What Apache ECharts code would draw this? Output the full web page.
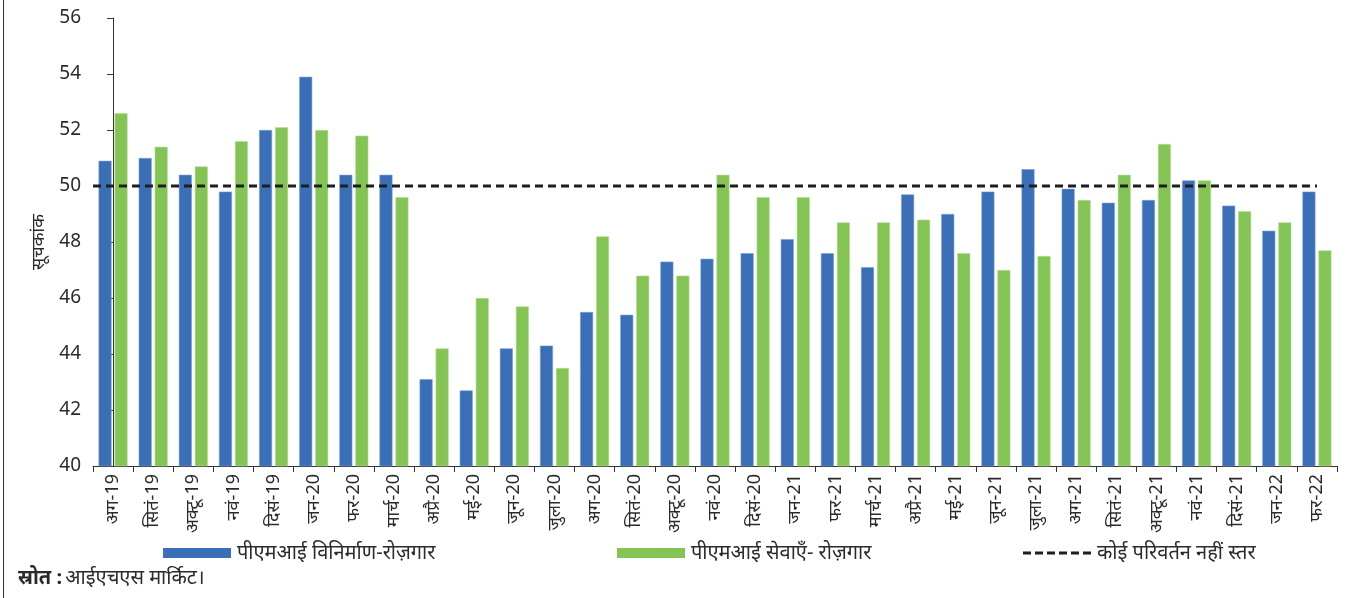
<!DOCTYPE html>
<html>
<head>
<meta charset="utf-8">
<script src="https://cdn.jsdelivr.net/npm/echarts@6/dist/echarts.min.js"></script>
<style>
  html, body { margin: 0; padding: 0; background: #fff; }
  #chart { width: 1353px; height: 598px; }
</style>
</head>
<body>
<div id="chart"></div>
<script>
// Months (Aug 2019 – Feb 2022)
const months = ['अग-19','सितं-19','अक्टू-19','नवं-19','दिसं-19','जन-20','फर-20','मार्च-20','अप्रै-20','मई-20','जून-20','जुला-20','अग-20','सितं-20','अक्टू-20','नवं-20','दिसं-20','जन-21','फर-21','मार्च-21','अप्रै-21','मई-21','जून-21','जुला-21','अग-21','सितं-21','अक्टू-21','नवं-21','दिसं-21','जन-22','फर-22'];

// PMI manufacturing – employment
const manufacturing = [50.9,51.0,50.4,49.8,52.0,53.9,50.4,50.4,43.1,42.7,44.2,44.3,45.5,45.4,47.3,47.4,47.6,48.1,47.6,47.1,49.7,49.0,49.8,50.6,49.9,49.4,49.5,50.2,49.3,48.4,49.8];

// PMI services – employment
const services = [52.6,51.4,50.7,51.6,52.1,52.0,51.8,49.6,44.2,46.0,45.7,43.5,48.2,46.8,46.8,50.4,49.6,49.6,48.7,48.7,48.8,47.6,47.0,47.5,49.5,50.4,51.5,50.2,49.1,48.7,47.7];

// No-change threshold
const noChangeLevel = 50;

// Y axis range and step
const yMin = 40, yMax = 56, yStep = 2;

const names = {
  mfg: 'पीएमआई विनिर्माण-रोज़गार',
  svc: 'पीएमआई सेवाएँ- रोज़गार',
  ref: 'कोई परिवर्तन नहीं स्तर'
};

const FONT = '"Noto Sans", "Noto Sans Devanagari", sans-serif';
const TEXT = '#2b2b2b';

const dashIcon = 'path://M0,0H8V3H0Z M12,0H20V3H12Z M24,0H32V3H24Z M36,0H44V3H36Z M48,0H56V3H48Z M60,0H68V3H60Z';

function legendAt(left, item) {
  return {
    left: left, top: 538,
    itemWidth: 68, itemHeight: 10, itemGap: 0,
    itemStyle: { borderWidth: 0 },
    textStyle: { fontSize: 20, color: TEXT, fontFamily: FONT, padding: [0, 0, 0, 1] },
    data: [item]
  };
}

const chart = echarts.init(document.getElementById('chart'), null, { renderer: 'canvas' });

chart.setOption({
  animation: false,
  textStyle: { fontFamily: FONT },
  grid: { left: 93, top: 18, right: 16, bottom: 132, containLabel: false },
  legend: [
    legendAt(158, { name: names.mfg, icon: 'rect' }),
    legendAt(612, { name: names.svc, icon: 'rect' }),
    legendAt(1018, { name: names.ref, icon: dashIcon })
  ],
  xAxis: [
    {
      type: 'category', data: months,
      axisLine: { lineStyle: { color: '#333', width: 1 } },
      axisTick: { show: true, length: 6, inside: false, lineStyle: { color: '#333' } },
      axisLabel: { rotate: 90, fontSize: 18, color: TEXT, margin: 8, interval: 0, fontFamily: FONT }
    },
    {
      type: 'value', min: -0.5, max: months.length - 0.5, show: false
    }
  ],
  yAxis: {
    type: 'value', min: yMin, max: yMax, interval: yStep,
    name: 'सूचकांक', nameLocation: 'middle', nameGap: 40, nameRotate: 90,
    nameTextStyle: { fontSize: 18, color: TEXT, fontFamily: FONT },
    axisLine: { show: true, lineStyle: { color: '#333', width: 1 } },
    axisTick: { show: true, length: 6, lineStyle: { color: '#333' } },
    splitLine: { show: false },
    axisLabel: { fontSize: 19, color: TEXT, margin: 12, fontFamily: FONT }
  },
  series: [
    {
      name: names.mfg, type: 'bar', data: manufacturing,
      barWidth: 13, barGap: '23%',
      itemStyle: { color: '#3a6eb7', borderColor: '#7b9fd3', borderWidth: 0.6 }
    },
    {
      name: names.svc, type: 'bar', data: services,
      barWidth: 13, barGap: '23%',
      itemStyle: { color: '#84c455', borderColor: '#b5dd98', borderWidth: 0.6 }
    },
    {
      name: names.ref, type: 'line', xAxisIndex: 1,
      data: [[-0.5, noChangeLevel], [months.length - 1, noChangeLevel]],
      symbol: 'none', z: 5,
      lineStyle: { color: '#1e1e1e', width: 3, type: [8, 5] },
      itemStyle: { color: '#1e1e1e' }
    }
  ],
  color: ['#3a6eb7', '#84c455', '#1e1e1e'],
  graphic: [
    { type: 'line', shape: { x1: 3.5, y1: 0, x2: 3.5, y2: 598 }, style: { stroke: '#333', lineWidth: 1 } },
    {
      type: 'text', left: 18, top: 568,
      style: {
        rich: {
          b: { fontWeight: 'bold', fontSize: 20, fill: TEXT, fontFamily: FONT },
          n: { fontSize: 20, fill: TEXT, fontFamily: FONT }
        },
        text: '{b|स्रोत :} {n|आईएचएस मार्किट।}'
      }
    }
  ]
});
</script>
</body>
</html>
